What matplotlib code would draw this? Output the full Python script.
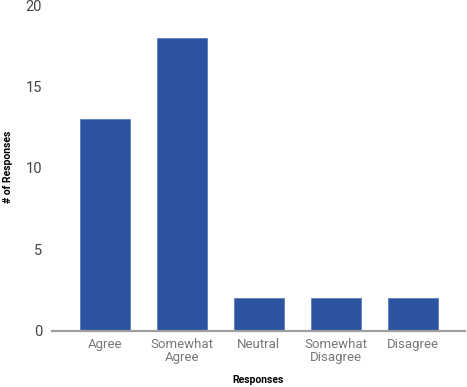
import matplotlib.pyplot as plt

categories = ['Agree', 'Somewhat\nAgree', 'Neutral', 'Somewhat\nDisagree', 'Disagree']
counts = [13, 18, 2, 2, 2]
yticks = [0, 5, 10, 15, 20]

plt.rcParams['font.family'] = ['Roboto', 'DejaVu Sans']

fig = plt.figure(figsize=(4.67, 3.87), dpi=100)
ax = fig.add_axes([0.111, 0.145, 0.885, 0.842])

ax.bar(range(len(categories)), counts, width=0.65, color='#2c54a0',
       edgecolor='#5a7cc0', linewidth=0.6, zorder=2)

ax.set_xlim(-0.69, 4.68)
ax.set_ylim(0, 20)
ax.set_yticks(yticks)
ax.set_xticks(range(len(categories)))
ax.set_xticklabels(categories, linespacing=1.0)

for side in ['top', 'right', 'left']:
    ax.spines[side].set_visible(False)
ax.spines['bottom'].set_color('#9e9e9e')
ax.spines['bottom'].set_linewidth(1.6)
ax.spines['bottom'].set_zorder(3)

ax.tick_params(axis='y', length=0, labelsize=10.5, colors='#444444', pad=7)
ax.tick_params(axis='x', length=0, labelsize=9.5, labelcolor='#777777', pad=5)

# axis titles placed in figure coords so they stay inside the canvas
fig.text(0.5 * (0.111 + 0.996), 1 - 380 / 387, 'Responses', fontsize=7.5,
         fontweight='bold', ha='center', va='center')
fig.text(8 / 467, 1 - 167 / 387, '# of Responses', fontsize=7.5,
         fontweight='bold', rotation=90, ha='center', va='center')

fig.savefig('out.png', dpi=100)
